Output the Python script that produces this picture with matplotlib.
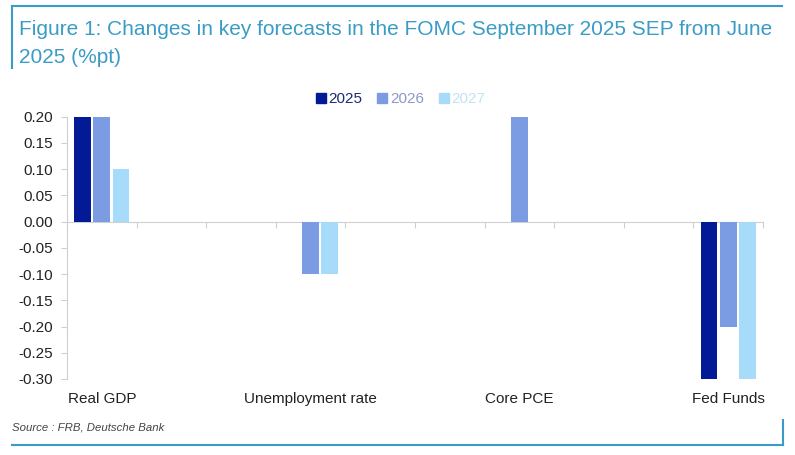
import matplotlib
matplotlib.use("Agg")
import numpy as np
from matplotlib import pyplot as plt
from matplotlib.lines import Line2D
from matplotlib import transforms

# data (blank categories are spacers in the original chart)
categories = ["Real GDP", "", "", "Unemployment rate", "", "", "Core PCE", "", "", "Fed Funds"]
years = ["2025", "2026", "2027"]
chg_2025 = [0.20, 0, 0, 0.00, 0, 0, 0.00, 0, 0, -0.30]
chg_2026 = [0.20, 0, 0, -0.10, 0, 0, 0.20, 0, 0, -0.20]
chg_2027 = [0.10, 0, 0, -0.10, 0, 0, 0.00, 0, 0, -0.30]
yticks = [0.20, 0.15, 0.10, 0.05, 0.00, -0.05, -0.10, -0.15, -0.20, -0.25, -0.30]

colors = ["#021a96", "#7b9be3", "#a6dbf9"]
text_colors = ["#1b2a7a", "#8e98c8", "#c3e2f5"]
teal = "#3a9cc6"
grey_axis = "#d0d0d0"

plt.rcParams["font.family"] = ["Liberation Sans", "DejaVu Sans"]

fig = plt.figure(figsize=(7.95, 4.55), dpi=100)
ax = fig.add_axes([67 / 795, 1 - 379 / 455, (763 - 67) / 795, (379 - 116.7) / 455])

x = np.arange(len(categories))
width = 0.24
step = 0.275
series = [chg_2025, chg_2026, chg_2027]
for i, (vals, c, lab) in enumerate(zip(series, colors, years)):
    ax.bar(x + (i - 1) * step, vals, width, color=c, label=lab, zorder=3)

ax.set_xlim(-0.5, len(categories) - 0.5)
ax.set_ylim(-0.30, 0.20)
ax.set_yticks(yticks)
ax.set_yticklabels([f"{v:.2f}" for v in yticks], fontsize=11, color="#222222")
ax.tick_params(axis="y", length=4, color=grey_axis, pad=6)

# x axis sits on zero, tick marks at category boundaries
ax.spines["bottom"].set_position(("data", 0))
ax.spines["bottom"].set_color(grey_axis)
ax.spines["left"].set_color(grey_axis)
ax.spines["top"].set_visible(False)
ax.spines["right"].set_visible(False)
ax.set_xticks(np.arange(-0.5, len(categories), 1.0))
ax.set_xticklabels([])
ax.tick_params(axis="x", length=4, color=grey_axis, direction="out")

trans = transforms.blended_transform_factory(ax.transData, ax.transAxes)
for xi, cat in zip(x, categories):
    if cat:
        ax.text(xi, -0.075, cat, transform=trans, ha="center", va="center",
                fontsize=11, color="#222222")

handles = [Line2D([], [], marker="s", linestyle="none", markersize=7,
                  markerfacecolor=c, markeredgecolor=c) for c in colors]
leg = fig.legend(handles, years, loc="center", bbox_to_anchor=(400 / 795, 1 - 99 / 455),
                 ncol=3, frameon=False, fontsize=11, handletextpad=0.1,
                 columnspacing=0.9, handlelength=0.8)
for t, c in zip(leg.get_texts(), text_colors):
    t.set_color(c)

# title and frame
fig.text(19 / 795, 1 - 35 / 455,
         "Figure 1: Changes in key forecasts in the FOMC September 2025 SEP from June",
         fontsize=15, color=teal, ha="left", va="baseline")
fig.text(19 / 795, 1 - 63 / 455, "2025 (%pt)",
         fontsize=15, color=teal, ha="left", va="baseline")
fig.add_artist(Line2D([12 / 795, 782 / 795], [1 - 6 / 455, 1 - 6 / 455], color=teal, lw=1.5))
fig.add_artist(Line2D([12 / 795, 12 / 795], [1 - 6 / 455, 1 - 68 / 455], color=teal, lw=1.5))
fig.add_artist(Line2D([12 / 795, 783 / 795], [1 - 445 / 455, 1 - 445 / 455], color=teal, lw=1.5))
fig.add_artist(Line2D([783 / 795, 783 / 795], [1 - 445 / 455, 1 - 420 / 455], color=teal, lw=1.5))

fig.text(12 / 795, 1 - 427 / 455, "Source : FRB, Deutsche Bank", fontsize=8.2,
         style="italic", color="#444444", ha="left", va="center")

fig.savefig("out.png", dpi=100)
